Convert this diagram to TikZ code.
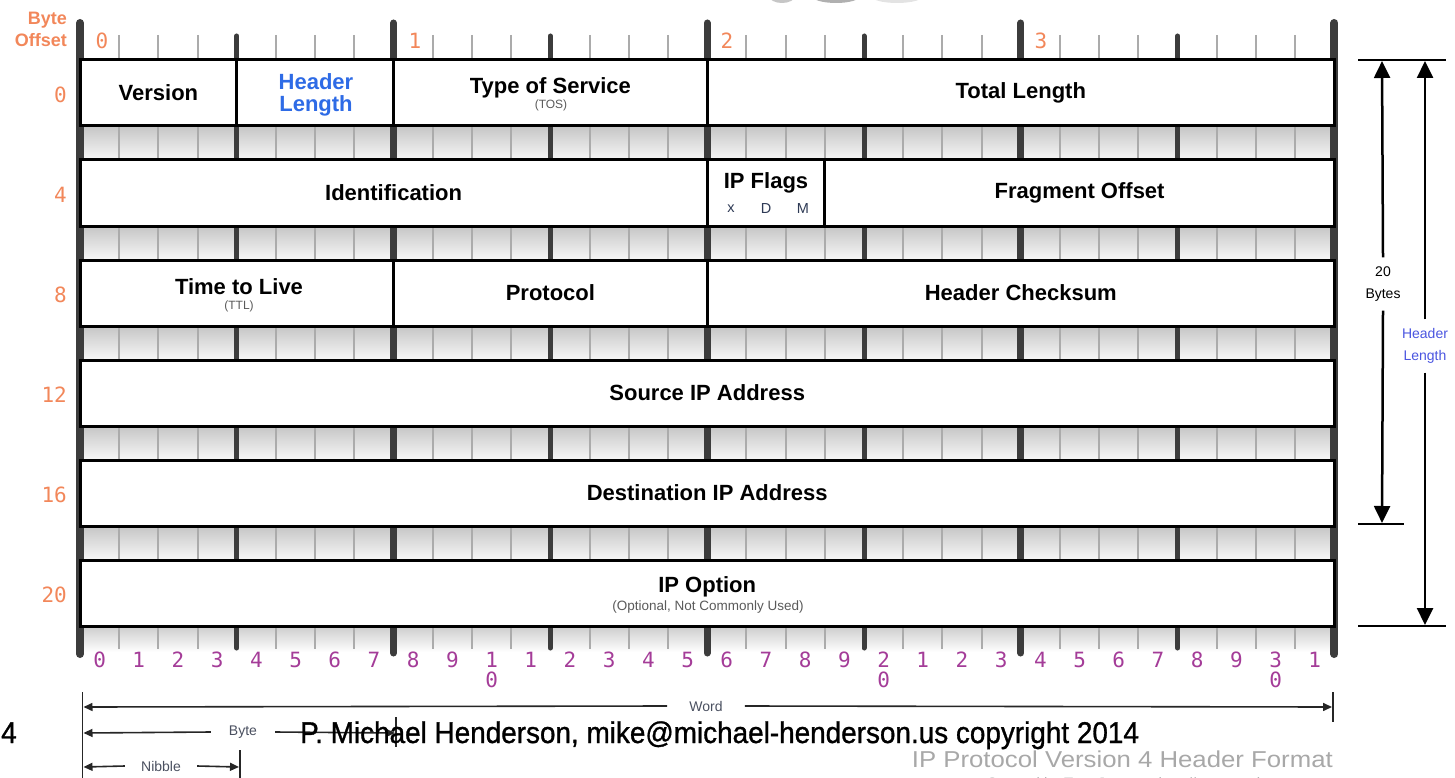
\documentclass[tikz,border=0pt]{standalone}
\usepackage{fontspec}
\setmainfont{Liberation Sans}
\newfontfamily\monofont{DejaVu Sans Mono}
\newfontfamily\footfont[FakeStretch=0.93,FakeBold=1]{Liberation Sans}
\newfontfamily\titlefont[FakeStretch=1.12]{Liberation Sans}
\usetikzlibrary{arrows.meta}
\definecolor{offorange}{HTML}{F2875A}
\definecolor{bitpurple}{HTML}{A43C98}
\definecolor{hlblue}{HTML}{2E6BE6}
\definecolor{lenblue}{HTML}{4A55E0}
\definecolor{bardark}{HTML}{3C3C3C}
\definecolor{tickgray}{HTML}{ABABAB}
\definecolor{subgray}{HTML}{5A5A5A}
\definecolor{flaggray}{HTML}{2E3A55}
\definecolor{titlegray}{HTML}{A8A8A8}
\definecolor{lblgray}{HTML}{4A5060}
\begin{document}
\begin{tikzpicture}[x=1pt,y=-1pt,
  field/.style={draw=black,line width=3pt,fill=white,minimum height=66pt,inner sep=0pt,
    align=center,font=\fontsize{22}{22}\selectfont\bfseries},
  ftext/.style={inner sep=0pt,align=center,font=\fontsize{22}{22}\selectfont\bfseries},
  subt/.style={inner sep=0pt,text=subgray,font=\fontsize{12}{12}\selectfont},
  minortick/.style={draw=tickgray,line width=2pt},
  nibbar/.style={draw=bardark,line width=5pt,line cap=round},
  bytebar/.style={draw=bardark,line width=7pt,line cap=round},
  offs/.style={text=offorange,inner sep=0pt,font=\monofont\fontsize{21}{21}\selectfont},
  bitnum/.style={text=bitpurple,inner sep=0pt,font=\monofont\fontsize{21}{21}\selectfont},
  dimline/.style={draw=black,line width=2.5pt},
  bigarrow/.style={dimline,-{Triangle[width=16pt,length=17pt]}},
  smallarrow/.style={draw=black!85,line width=1.6pt,-{Triangle[width=8pt,length=9pt]}},
  thinline/.style={draw=black!85,line width=1.6pt},
  dimlbl/.style={inner xsep=2pt,inner ysep=9pt,align=center,font=\fontsize{14}{22}\selectfont},
  blbl/.style={inner xsep=18pt,inner ysep=2pt,text=lblgray,font=\fontsize{14}{14}\selectfont},
  foot/.style={anchor=base west,inner sep=0pt,font=\footfont\fontsize{30}{30}\selectfont}
]
\useasboundingbox (0,0) rectangle (1455,778);

% partial logo at top edge
\fill[gray!45] (782,-4) ellipse (13 and 7);
\fill[gray!62] (836,-4) ellipse (24 and 7);
\fill[gray!22] (897,-4) ellipse (26 and 7);

% gray strips between rows
\foreach \y in {126,226,326,426,526}{
  \shade[top color=gray!45,bottom color=gray!6] (80,\y) rectangle (1334.4,\y+34);
}
\shade[top color=gray!40,bottom color=white] (80,626) rectangle (1334.4,652);

% minor ticks
\foreach \b in {1,...,31}{
  \draw[minortick] ({80+39.2*\b},35) -- ({80+39.2*\b},649);
}
% nibble bars
\foreach \b in {4,12,20,28}{
  \draw[nibbar] ({80+39.2*\b},36) -- ({80+39.2*\b},648);
}
% byte bars
\foreach \b in {8,16,24}{
  \draw[bytebar] ({80+39.2*\b},23) -- ({80+39.2*\b},653);
}
\draw[bytebar,line width=8pt] (80,23) -- (80,654);
\draw[bytebar,line width=8pt] (1334.4,23) -- (1334.4,654);

% row 0
\node[field,minimum width=156.8pt] (version) at (158.4,93) {Version};
\node[field,minimum width=156.8pt] (hdrlen) at (315.2,93) {};
\node[ftext,text=hlblue] (hdrlentxt) at (316,95) {Header\\Length};
\node[field,minimum width=313.6pt] (tos) at (550.4,93) {};
\node[ftext] (tostxt) at (550.4,88) {Type of Service};
\node[subt] (tossub) at (551,105) {(TOS)};
\node[field,minimum width=627.2pt] (totlen) at (1020.8,93) {Total Length};
% row 4
\node[field,minimum width=627.2pt] (ident) at (393.6,193) {Identification};
\node[field,minimum width=117.6pt] (flags) at (766,193) {};
\node[ftext] (flagstxt) at (766,183) {IP Flags};
\node[inner sep=0pt,text=flaggray,font=\fontsize{14.5}{14.5}\selectfont] (flx) at (731,209) {x};
\node[inner sep=0pt,text=flaggray,font=\fontsize{14.5}{14.5}\selectfont] (fld) at (766,209) {D};
\node[inner sep=0pt,text=flaggray,font=\fontsize{14.5}{14.5}\selectfont] (flm) at (803,209) {M};
\node[field,minimum width=509.6pt] (fragoff) at (1079.6,193) {Fragment Offset};
% row 8
\node[field,minimum width=313.6pt] (ttl) at (236.8,293) {};
\node[ftext] (ttltxt) at (239,287) {Time to Live};
\node[subt] (ttlsub) at (239,306) {(TTL)};
\node[field,minimum width=313.6pt] (proto) at (550.4,293) {Protocol};
\node[field,minimum width=627.2pt] (chksum) at (1020.8,293) {Header Checksum};
% rows 12,16,20
\node[field,minimum width=1254.4pt] (srcip) at (707.2,393) {Source IP Address};
\node[field,minimum width=1254.4pt] (dstip) at (707.2,493) {Destination IP Address};
\node[field,minimum width=1254.4pt] (ipopt) at (707.2,593) {};
\node[ftext] (ipopttxt) at (707.2,587) {IP Option};
\node[subt,font=\fontsize{13.5}{13.5}\selectfont] (ipoptsub) at (708,607) {(Optional, Not Commonly Used)};

% byte offset header
\node[anchor=east,align=right,inner sep=0pt,text=offorange,font=\fontsize{18}{22}\selectfont\bfseries] (bo) at (67,29) {Byte\\Offset};
\node[offs] (c0) at (102,41) {0};
\node[offs] (c1) at (415,41) {1};
\node[offs] (c2) at (727,41) {2};
\node[offs] (c3) at (1041,41) {3};
\node[offs,anchor=east] (r0) at (67,95) {0};
\node[offs,anchor=east] (r4) at (67,195) {4};
\node[offs,anchor=east] (r8) at (67,295) {8};
\node[offs,anchor=east] (r12) at (67,395) {12};
\node[offs,anchor=east] (r16) at (67,495) {16};
\node[offs,anchor=east] (r20) at (67,595) {20};

% bit numbers
\foreach \b in {0,...,31}{
  \pgfmathtruncatemacro\d{mod(\b,10)}
  \pgfmathtruncatemacro\tn{\b/10}
  \pgfmathsetmacro\xx{99.6+39.2*\b}
  \ifnum\d=0\relax
    \ifnum\tn>0\relax
      \node[bitnum] (bit\b) at (\xx,660) {\tn};
      \node[bitnum] (bitz\b) at (\xx,680) {0};
    \else
      \node[bitnum] (bit\b) at (\xx,660) {\d};
    \fi
  \else
    \node[bitnum] (bit\b) at (\xx,660) {\d};
  \fi
}

% right dimension arrows
\coordinate (tl) at (1358,60); \coordinate (tr) at (1446,60);
\coordinate (ml) at (1358,524); \coordinate (mr) at (1404,524);
\coordinate (bl) at (1358,626); \coordinate (br) at (1446,626);
\draw[dimline] (tl) -- (tr);
\draw[dimline] (ml) -- (mr);
\draw[dimline] (bl) -- (br);
\node[dimlbl] (twenty) at (1383,284) {20\\Bytes};
\coordinate (tw1) at (1382,61); \coordinate (tw2) at (1382,523);
\draw[bigarrow] (twenty.north) -- (tw1);
\draw[bigarrow] (twenty.south) -- (tw2);
\node[dimlbl,text=lenblue] (hlen) at (1425,346) {Header\\Length};
\coordinate (hl1) at (1425,61); \coordinate (hl2) at (1425,625);
\draw[bigarrow] (hlen.north) -- (hl1);
\draw[bigarrow] (hlen.south) -- (hl2);

% bottom word / byte / nibble
\coordinate (lv1) at (82.5,692); \coordinate (lv2) at (82.5,778);
\draw[thinline] (lv1) -- (lv2);
\coordinate (wt1) at (1333,692); \coordinate (wt2) at (1333,722);
\draw[thinline] (wt1) -- (wt2);
\coordinate (bt1) at (396,717); \coordinate (bt2) at (396,747);
\draw[thinline] (bt1) -- (bt2);
\coordinate (nt1) at (240,750); \coordinate (nt2) at (240,778);
\draw[thinline] (nt1) -- (nt2);
\node[blbl,inner xsep=22pt] (word) at (706,706) {Word};
\coordinate (wl) at (83.5,707); \coordinate (wr) at (1332,707);
\draw[smallarrow] (word.west) -- (wl);
\draw[smallarrow] (word.east) -- (wr);
\node[blbl] (byte) at (243,732) {Byte};
\coordinate (byl) at (83.5,733); \coordinate (byr) at (395,733);
\draw[smallarrow] (byte.west) -- (byl);
\draw[smallarrow] (byte.east) -- (byr);
\node[blbl,inner xsep=16pt] (nib) at (161,766) {Nibble};
\coordinate (nl) at (83.5,767); \coordinate (nr) at (239,767);
\draw[smallarrow] (nib.west) -- (nl);
\draw[smallarrow] (nib.east) -- (nr);

% title and credits
\node[anchor=base east,inner sep=0pt,text=titlegray,font=\titlefont\fontsize{23}{23}\selectfont] (title) at (1333,767) {IP Protocol Version 4 Header Format};
\node[anchor=base east,inner sep=0pt,text=titlegray,font=\fontsize{15}{15}\selectfont] (created) at (1333,788) {Created by Troy Jessup - http://www.troyjessup.com};

% footer overlay
\node[foot] (pagenum) at (1,743) {4};
\node[foot] (credit) at (300,743) {P. Michael Henderson, mike@michael-henderson.us copyright 2014};
\end{tikzpicture}
\end{document}
